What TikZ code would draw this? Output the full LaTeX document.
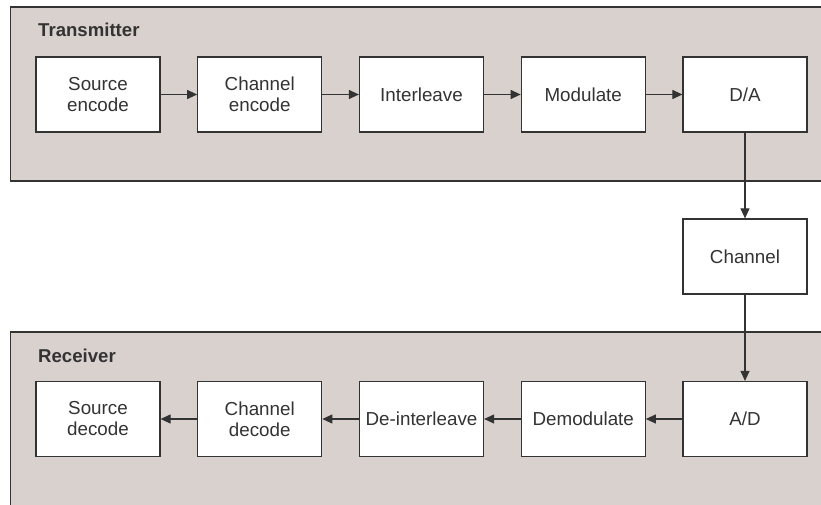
\documentclass[tikz,border=0pt]{standalone}
\usepackage{fontspec}
\setmainfont{Liberation Sans}
\usetikzlibrary{arrows.meta}
\definecolor{panelfill}{HTML}{D9D1CE}
\definecolor{ink}{HTML}{333333}
\tikzset{
  panel/.style={draw=ink, line width=1.2pt, fill=panelfill},
  block/.style={draw=ink, line width=1.2pt, fill=white, minimum width=124pt, minimum height=75pt,
    inner sep=0pt, align=center, text=ink, font=\fontsize{18.8}{21}\selectfont},
  title/.style={anchor=base west, text=ink, inner sep=0pt, font=\fontsize{18.6}{21}\selectfont\bfseries},
  flow/.style={draw=ink, line width=1.1pt, -{Triangle[length=10pt,width=9pt]}}
}
\begin{document}
\begin{tikzpicture}[x=1pt,y=-1pt]
\useasboundingbox (0,0) rectangle (821,505);
\path[clip] (0,0) rectangle (821,505);
% panels (open to the right and bottom edge)
\draw[panel] (10.5,7) rectangle (835,181);
\draw[panel] (10.5,332) rectangle (835,520);
\node[title] (tx) at (38,37) {Transmitter};
\node[title] (rx) at (38,362) {Receiver};
% transmitter chain
\node[block] (senc) at (98,94.5) {Source\\encode};
\node[block] (cenc) at (259.75,94.5) {Channel\\encode};
\node[block] (il)   at (421.5,94.5) {Interleave};
\node[block] (mod)  at (583.25,94.5) {Modulate};
\node[block] (da)   at (745,94.5) {D/A};
% channel
\node[block] (ch) at (745,256.5) {Channel};
% receiver chain
\node[block] (ad)   at (745,419) {A/D};
\node[block] (dem)  at (583.25,419) {Demodulate};
\node[block] (dil)  at (421.5,419) {De-interleave};
\node[block] (cdec) at (259.75,419) {Channel\\decode};
\node[block] (sdec) at (98,419) {Source\\decode};
% connectors
\draw[flow] (senc) -- (cenc);
\draw[flow] (cenc) -- (il);
\draw[flow] (il) -- (mod);
\draw[flow] (mod) -- (da);
\draw[flow] (da) -- (ch);
\draw[flow] (ch) -- (ad);
\draw[flow] (ad) -- (dem);
\draw[flow] (dem) -- (dil);
\draw[flow] (dil) -- (cdec);
\draw[flow] (cdec) -- (sdec);
\end{tikzpicture}
\end{document}
